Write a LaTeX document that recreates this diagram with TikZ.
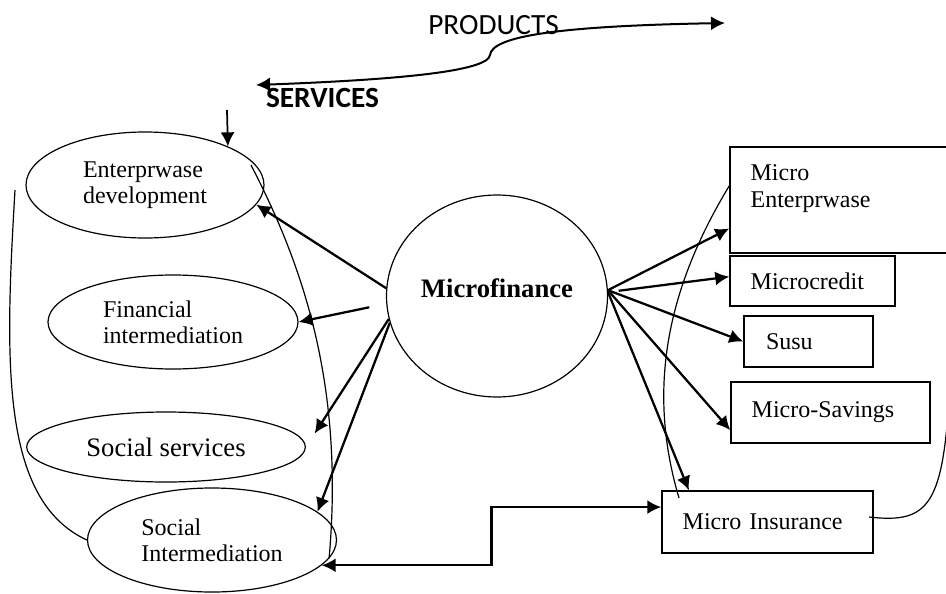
\documentclass[tikz,border=0pt]{standalone}
\usepackage{fontspec}
\setmainfont{Liberation Serif}
\newfontfamily\calfont{Carlito}
\usetikzlibrary{arrows.meta,shapes.geometric,calc}
\tikzstyle{oval}=[ellipse,draw,line width=0.9pt,inner sep=0pt,align=left,font=\fontsize{18}{19.5}\selectfont]
\tikzstyle{box}=[rectangle,draw,line width=1.1pt,inner ysep=0pt,inner xsep=15.5pt,align=left,font=\fontsize{18}{20.25}\selectfont]
\tikzstyle{edge}=[draw,line width=1.7pt,-{Latex[length=10.5pt,width=10.5pt]}]
\tikzstyle{both}=[draw,line width=1.7pt,{Latex[length=10.5pt,width=10.5pt]}-{Latex[length=10.5pt,width=10.5pt]}]
\tikzstyle{link}=[draw,line width=0.9pt]
\tikzstyle{head}=[font=\calfont\fontsize{22}{26}\selectfont]

\begin{document}
\begin{tikzpicture}[x=0.75pt,y=-0.75pt]

    \useasboundingbox (0,0) rectangle (946,593);

    % services
    \node[oval, minimum width=178.5pt, minimum height=79.5pt] (ent) at (145,185) {Enterprwase\\development};
    \node[oval, minimum width=187.5pt, minimum height=70.5pt] (fin) at (173,322) {Financial\\intermediation};
    \node[oval, minimum width=209pt, minimum height=52.5pt, font=\fontsize{20}{22}\selectfont] (ss) at (166,447) {Social services};
    \node[oval, minimum width=186.75pt, minimum height=78pt] (si) at (212,540) {Social\\Intermediation};

    \node[oval, minimum width=165.75pt, minimum height=151.5pt, text depth=12pt, font=\bfseries\fontsize{20}{22}\selectfont] (mf) at (497,296) {Microfinance};

    % products
    \node[box, minimum width=200pt, minimum height=79.5pt, text width=169pt] (me) at (863.3,200) {Micro\\Enterprwase\\\mbox{}};
    \node[box, minimum width=123.75pt, minimum height=37.5pt, text width=92.75pt] (mc) at (812.5,281) {Microcredit};
    \node[box, minimum width=96.75pt, minimum height=38.25pt, inner xsep=16.5pt, text width=63.75pt] (susu) at (808.5,341.5) {Susu};
    \node[box, minimum width=149.25pt, minimum height=45.75pt, text width=118.25pt] (ms) at (830.5,412.5) {Micro-Savings};
    \node[box, minimum width=158.25pt, minimum height=46.5pt, text width=127.25pt] (mi) at (767.5,522) {Micro Insurance};

    \node[head] (prod) at (493.5,25.5) {PRODUCTS};
    \node[head, font=\calfont\bfseries\fontsize{22}{26}\selectfont] (serv) at (322.5,97.5) {SERVICES};

    \coordinate (sl) at (256,85);
    \coordinate (sr) at (725,23);
    \path[both, line width=1.5pt] (sl) .. controls (390,80) and (488,72) .. (490,55) .. controls (492,36) and (560,26) .. (sr);

    \coordinate (dn) at (227,110);
    \path[edge, line width=1.3pt] (dn) -- (ent.25);

    \foreach \source/ \dest in {mf.176/ent.-10, mf.194/si.15, mf.3/me.192, mf.3/susu.west, mf.3/ms.190, mf.2/mi.158}
        \path[edge] (\source) -- (\dest);

    \path[edge, shorten <=13pt] (mf.184) -- (fin.east);
    \path[edge, shorten >=12pt] (mf.192) -- (ss.east);
    \path[edge, shorten <=8pt] (mf.2) -- (mc.177);

    \path[both] (si.-13) -| ($(si.-13)!.5!(mi.172)$) |- (mi.172);

    % loose lines
    \coordinate (lt) at (15,190);
    \coordinate (la) at (251,165);
    \coordinate (ra) at (679,498);
    \coordinate (rb) at (869,517);
    \coordinate (rc) at (950,380);
    \path[link] (lt) .. controls (5,360) and (0,500) .. (si.west);
    \path[link] (la) .. controls (300,260) and (345,380) .. (si.-9);
    \path[link] (ra) .. controls (650,400) and (660,300) .. (me.174);
    \path[link] (rb) .. controls (930,524) and (944,505) .. (rc);

\end{tikzpicture}
\end{document}
